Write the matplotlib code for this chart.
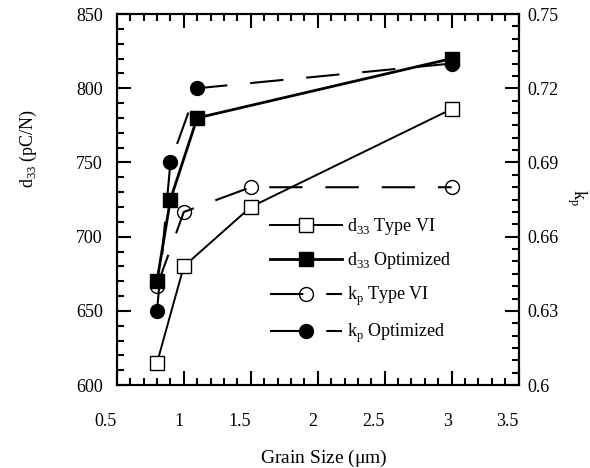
import matplotlib
matplotlib.use("Agg")
import matplotlib.pyplot as plt
from matplotlib.ticker import MultipleLocator

plt.rcParams['font.family'] = ['Liberation Serif', 'DejaVu Serif']
plt.rcParams['mathtext.fontset'] = 'custom'
plt.rcParams['mathtext.rm'] = 'Liberation Serif'

# grain size (um)
grain_type6 = [0.8, 1.0, 1.5, 3.0]
grain_opt = [0.8, 0.9, 1.1, 3.0]
grain_kp_type6 = [0.8, 1.0, 1.5, 3.0]
grain_kp_opt = [0.8, 0.9, 1.1, 3.0]

# d33 (pC/N)
d33_type6 = [615, 680, 720, 786]
d33_opt = [670, 725, 780, 820]

# kp
kp_type6 = [0.640, 0.670, 0.680, 0.680]
kp_opt = [0.630, 0.690, 0.720, 0.730]

x_ticks = [0.5, 1.0, 1.5, 2.0, 2.5, 3.0, 3.5]
x_labels = ['0.5', '1', '1.5', '2', '2.5', '3', '3.5']
kp_ticks = [0.6, 0.63, 0.66, 0.69, 0.72, 0.75]
kp_labels = ['0.6', '0.63', '0.66', '0.69', '0.72', '0.75']

fig = plt.figure(figsize=(5.9, 4.68), dpi=100)
ax = fig.add_axes([0.198, 0.177, 0.681, 0.793])
ax2 = ax.twinx()

# kp on the right axis (drawn underneath the squares)
l3, = ax2.plot(grain_kp_type6, kp_type6, color='black', lw=1.5, dashes=[16, 11],
               marker='o', ms=10, mfc='none', mec='black', mew=1.0,
               label=r'k$_{\mathregular{p}}$ Type VI')
l4, = ax2.plot(grain_kp_opt, kp_opt, color='black', lw=1.5, dashes=[16, 11],
               marker='o', ms=10, mfc='black', mec='black',
               label=r'k$_{\mathregular{p}}$ Optimized')

l1, = ax.plot(grain_type6, d33_type6, color='black', lw=1.4,
              marker='s', ms=10, mfc='white', mec='black', mew=1.0,
              label=r'd$_{\mathregular{33}}$ Type VI')
l2, = ax.plot(grain_opt, d33_opt, color='black', lw=2.0,
              marker='s', ms=10, mfc='black', mec='black',
              label=r'd$_{\mathregular{33}}$ Optimized')

ax.set_zorder(ax2.get_zorder() + 1)
ax.patch.set_visible(False)

ax.set_xticks(x_ticks, labels=x_labels)
ax.xaxis.set_minor_locator(MultipleLocator(0.1))
ax.yaxis.set_major_locator(MultipleLocator(50))
ax.yaxis.set_minor_locator(MultipleLocator(10))
ax2.set_yticks(kp_ticks, labels=kp_labels)
ax2.yaxis.set_minor_locator(MultipleLocator(0.005))

ax.set_xlim(0.5, 3.5)
ax.set_ylim(600, 850)
ax2.set_ylim(0.6, 0.75)

ax.tick_params(axis='x', which='both', direction='in', top=True, pad=20, labelsize=13)
ax.tick_params(axis='y', which='both', direction='in', right=False, pad=10, labelsize=13)
ax2.tick_params(axis='y', which='both', direction='in', pad=6.5, labelsize=13)
for a in (ax, ax2):
    a.tick_params(which='major', length=10, width=1.5)
    a.tick_params(which='minor', length=5, width=1.5)
    for s in a.spines.values():
        s.set_linewidth(1.5)
plt.setp(ax.get_xticklabels(), ha='right')

fig.text(324 / 590, 1 - 458 / 468, r'Grain Size ($\mathregular{\mu}$m)',
         ha='center', va='center', fontsize=14)
fig.text(28 / 590, 1 - 148 / 468, r'd$_{\mathregular{33}}$ (pC/N)',
         ha='center', va='center', rotation=90, fontsize=13)
fig.text(577 / 590, 1 - 197 / 468, r'k$_{\mathregular{p}}$',
         ha='center', va='center', rotation=270, fontsize=13)

ax.legend(handles=[l1, l2, l3, l4], loc='upper left', bbox_to_anchor=(0.381, 0.456),
          frameon=False, borderpad=0, borderaxespad=0, handlelength=4.0,
          handletextpad=0.25, labelspacing=0.75, fontsize=13)

fig.savefig('out.png', dpi=100)
